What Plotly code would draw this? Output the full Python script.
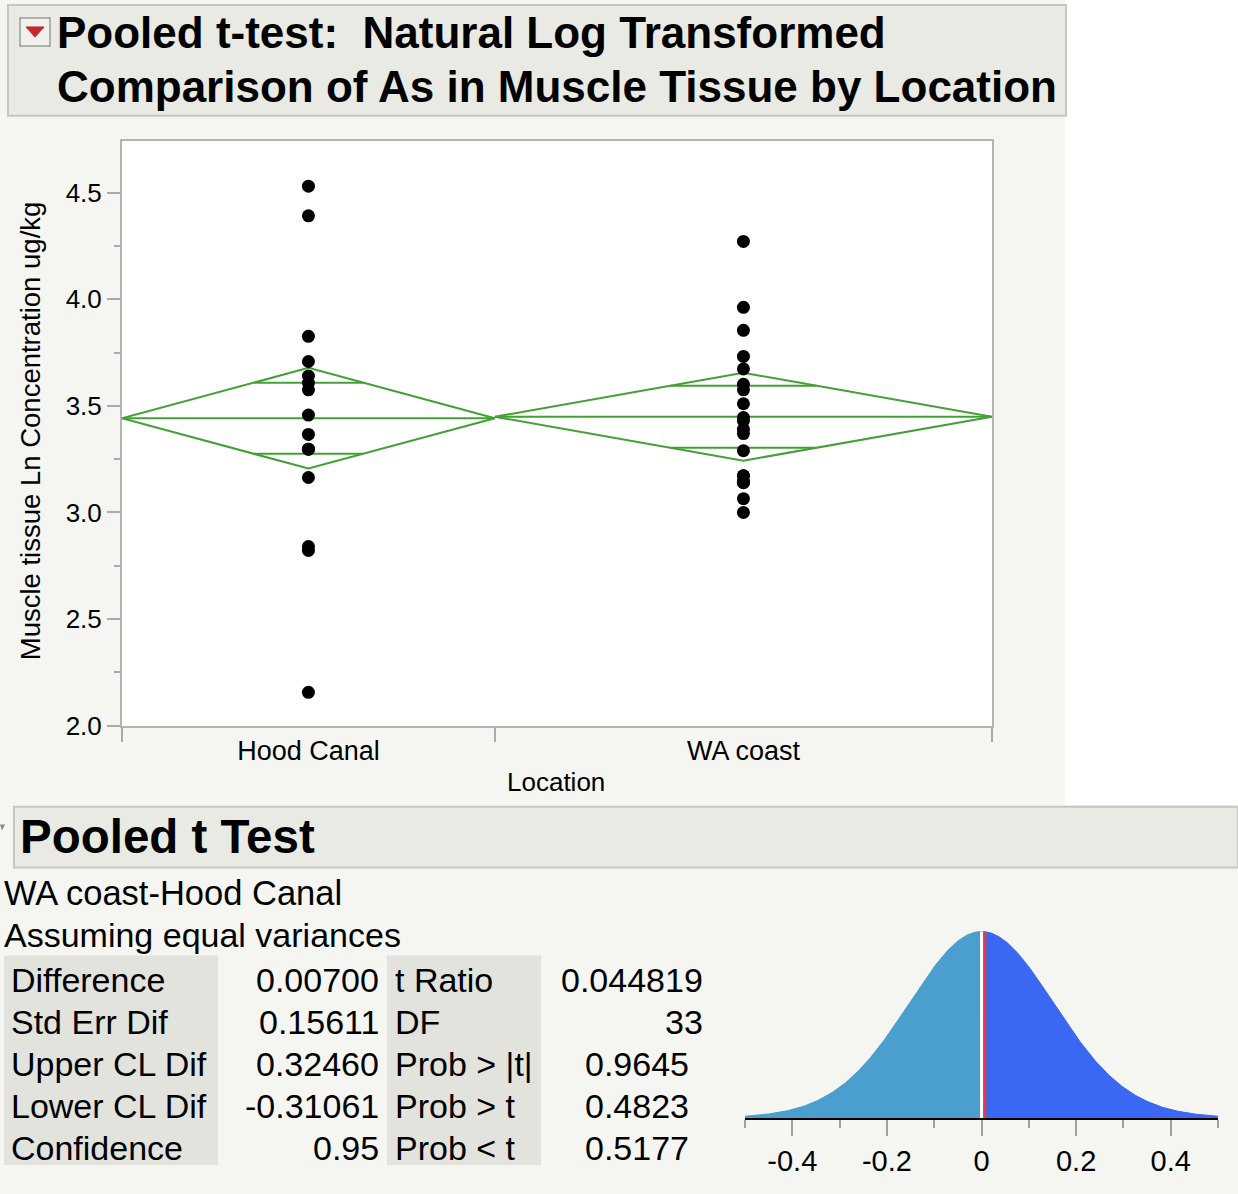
import numpy as np
import plotly.graph_objects as go

W, H = 1238, 1194
H_MAP = 1181  # effective vertical extent used for placing layout positions
FONT = "Liberation Sans, Arial, Helvetica, sans-serif"

# ---------------- data ----------------
groups = ["Hood Canal", "WA coast"]
group_n = [15, 20]
hood_canal = [4.530, 4.391, 3.826, 3.708, 3.640, 3.607, 3.575, 3.457, 3.366,
              3.297, 3.297, 3.164, 2.840, 2.822, 2.157]
wa_coast = [4.271, 3.962, 3.854, 3.732, 3.673, 3.601, 3.575, 3.510, 3.445,
            3.430, 3.390, 3.370, 3.290, 3.172, 3.172, 3.142, 3.142, 3.140,
            3.065, 3.000]
group_values = [hood_canal, wa_coast]
group_means = [3.442, 3.449]
ci_half = [0.236, 0.206]

y_ticks = [2.0, 2.5, 3.0, 3.5, 4.0, 4.5]
y_minor = [2.25, 2.75, 3.25, 3.75, 4.25]
y_range = [2.0, 4.743]

stat_labels_left = ["Difference", "Std Err Dif", "Upper CL Dif", "Lower CL Dif", "Confidence"]
stat_values_left = ["0.00700", "0.15611", "0.32460", "-0.31061", "0.95"]
stat_labels_right = ["t Ratio", "DF", "Prob > |t|", "Prob > t", "Prob < t"]
stat_values_right = ["0.044819", "33", "0.9645", "0.4823", "0.5177"]

difference = 0.00700
std_err = 0.15611
dof = 33
dist_range = [-0.5, 0.5]
dist_ticks = [-0.4, -0.2, 0, 0.2, 0.4]
dist_tick_text = ["-0.4", "-0.2", "0", "0.2", "0.4"]
dist_minor = [-0.5, -0.3, -0.1, 0.1, 0.3, 0.5]

# ---------------- helpers ----------------
def px(x):
    return x / W

def py(y):
    return 1 - y / H_MAP

GREEN = "#43a035"
PANEL = "#f5f6f1"
HEAD = "#e9eae4"
HEADLINE = "#c6c7c2"
COLBG = "#e2e3dd"

fig = go.Figure()

# ---------------- diamonds & points ----------------
starts = np.concatenate([[0], np.cumsum(group_n)[:-1]])
ends = np.cumsum(group_n)
centers = (starts + ends) / 2.0
k = 1 / np.sqrt(2)
for i, g in enumerate(groups):
    x0, x1, xc = starts[i], ends[i], centers[i]
    m, h = group_means[i], ci_half[i]
    halfw = (x1 - x0) / 2.0
    ov = (1 - k) * halfw
    xs = [x0, xc, x1, xc, x0, None, x0, x1, None,
          xc - ov, xc + ov, None, xc - ov, xc + ov]
    ys = [m, m + h, m, m - h, m, None, m, m, None,
          m + h * k, m + h * k, None, m - h * k, m - h * k]
    fig.add_trace(go.Scatter(x=xs, y=ys, mode="lines",
                             line=dict(color=GREEN, width=2),
                             hoverinfo="skip", showlegend=False))
for i, g in enumerate(groups):
    vals = group_values[i]
    fig.add_trace(go.Scatter(x=[centers[i]] * len(vals), y=vals, mode="markers",
                             marker=dict(color="black", size=13),
                             name=g, showlegend=False))

# ---------------- t distribution ----------------
xd = np.linspace(dist_range[0], dist_range[1], 501)
def dens(x):
    t = np.asarray(x) / std_err
    return (1 + t ** 2 / dof) ** (-(dof + 1) / 2)

left = xd[xd <= difference]
left = np.append(left, difference)
right = xd[xd >= difference]
right = np.insert(right, 0, difference)
fig.add_trace(go.Scatter(x=left, y=dens(left), mode="lines", fill="tozeroy",
                         fillcolor="#4a9fce", line=dict(color="#4a9fce", width=1),
                         xaxis="x2", yaxis="y2", hoverinfo="skip", showlegend=False))
fig.add_trace(go.Scatter(x=right, y=dens(right), mode="lines", fill="tozeroy",
                         fillcolor="#3b68f2", line=dict(color="#3b68f2", width=1),
                         xaxis="x2", yaxis="y2", hoverinfo="skip", showlegend=False))
fig.add_trace(go.Scatter(x=[0, 0], y=[0, float(dens(0))], mode="lines",
                         line=dict(color="white", width=3),
                         xaxis="x2", yaxis="y2", hoverinfo="skip", showlegend=False))
fig.add_trace(go.Scatter(x=[difference, difference], y=[0, float(dens(difference))],
                         mode="lines", line=dict(color="#dc3c4c", width=3),
                         xaxis="x2", yaxis="y2", hoverinfo="skip", showlegend=False))

# ---------------- shapes ----------------
def rect(x0, y0, x1, y1, fill, line=None, lw=0):
    return dict(type="rect", xref="paper", yref="paper",
                x0=px(x0), x1=px(x1), y0=py(y1), y1=py(y0),
                fillcolor=fill, line=dict(color=line or fill, width=lw),
                layer="below")

shapes = [
    rect(0, 0, 1065, 806, PANEL),
    rect(0, 806, W, H + 20, PANEL),
    rect(8, 5, 1066, 116, HEAD, HEADLINE, 2),
    rect(14, 808, W, 869, HEAD, HEADLINE, 2),
    rect(4, 957, 218, 1167, COLBG),
    rect(387, 957, 541, 1167, COLBG),
    # red disclosure button
    dict(type="rect", xref="paper", yref="paper", x0=px(20), x1=px(50),
         y0=py(46), y1=py(18), fillcolor="#f0f0ee", line=dict(color="#9a9a9a", width=1.5),
         layer="above"),
    dict(type="path", xref="paper", yref="paper",
         path=f"M {px(26)},{py(27)} L {px(44)},{py(27)} L {px(35)},{py(37)} Z",
         fillcolor="#c8262a", line=dict(color="#c8262a", width=1), layer="above"),
    # partial grey disclosure at bottom header
    dict(type="path", xref="paper", yref="paper",
         path=f"M {px(0)},{py(826)} L {px(5)},{py(826)} L {px(2)},{py(832)} Z",
         fillcolor="#8a8a8a", line=dict(color="#8a8a8a", width=0), layer="above"),
    # white plot area
    dict(type="rect", xref="x domain", yref="y domain", x0=0, x1=1, y0=0, y1=1,
         fillcolor="white", line=dict(width=0), layer="below"),
]

# ---------------- annotations ----------------
ann = []
def text(x, y, s, size, anchor="left", bold=False, angle=0):
    ann.append(dict(xref="paper", yref="paper", x=px(x), y=py(y),
                    text=("<b>" + s + "</b>") if bold else s,
                    showarrow=False, xanchor=anchor, yanchor="middle",
                    textangle=angle, borderpad=0,
                    font=dict(family=FONT, size=size, color="black")))

text(56, 33, "Pooled t-test:\u00a0 Natural Log Transformed", 44, bold=True)
text(56, 87, "Comparison of As in Muscle Tissue by Location", 44, bold=True)
text(30, 432, "Muscle tissue Ln Concentration ug/kg", 27.5, anchor="center", angle=-90)
text(556, 783, "Location", 26, anchor="center")
text(19, 838, "Pooled t Test", 47.5, bold=True)
text(3, 895, "WA coast-Hood Canal", 34.5)
text(3, 937, "Assuming equal variances", 34)

row_y0, row_dy = 982, 42
for i in range(len(stat_labels_left)):
    yy = row_y0 + i * row_dy
    text(10, yy, stat_labels_left[i], 34)
    text(380, yy, stat_values_left[i], 34, anchor="right")
    text(394, yy, stat_labels_right[i], 34)
    text(704 if i < 2 else 690, yy, stat_values_right[i], 34, anchor="right")

fig.update_layout(
    width=W, height=H,
    margin=dict(l=0, r=0, t=0, b=0),
    paper_bgcolor="white",
    plot_bgcolor="rgba(0,0,0,0)",
    shapes=shapes,
    annotations=ann,
    font=dict(family=FONT, color="black"),
    xaxis=dict(domain=[px(122), px(992)], range=[0, float(ends[-1])],
               tickvals=list(centers), ticktext=groups,
               ticks="outside", ticklen=0, tickcolor="#aaaaaa",
               minor=dict(tickvals=[0] + [float(e) for e in ends], ticks="outside",
                          ticklen=14, tickwidth=2, tickcolor="#aaaaaa"),
               tickfont=dict(size=27, family=FONT),
               showline=True, mirror=True, linecolor="#b3b3b3", linewidth=2,
               showgrid=False, zeroline=False, fixedrange=True),
    yaxis=dict(domain=[py(727), py(141)], range=y_range,
               tickvals=y_ticks, tickformat=".1f",
               ticks="outside", ticklen=13, tickwidth=2, tickcolor="#aaaaaa",
               minor=dict(tickvals=y_minor, ticks="outside", ticklen=6,
                          tickwidth=2, tickcolor="#aaaaaa"),
               tickfont=dict(size=26, family=FONT),
               showline=True, mirror=True, linecolor="#b3b3b3", linewidth=2,
               showgrid=False, zeroline=False, fixedrange=True),
    xaxis2=dict(domain=[px(745), px(1218)], anchor="y2", range=dist_range,
                tickvals=dist_ticks, ticktext=dist_tick_text,
                ticks="outside", ticklen=16, tickwidth=2, tickcolor="#a0a0a0",
                minor=dict(tickvals=dist_minor, ticks="outside", ticklen=8,
                           tickwidth=2, tickcolor="#a0a0a0"),
                tickfont=dict(size=29, family=FONT),
                showline=True, linecolor="black", linewidth=2,
                showgrid=False, zeroline=False, fixedrange=True),
    yaxis2=dict(domain=[py(1120), py(925)], anchor="x2", range=[0, 1.043],
                visible=False, showgrid=False, zeroline=False, fixedrange=True),
)

fig.write_html(
    "out.html",
    post_script=("document.documentElement.style.margin='0';"
                 "document.body.style.margin='0';"
                 "document.body.style.background='" + PANEL + "';"
                 "document.documentElement.style.background='" + PANEL + "';"),
)
